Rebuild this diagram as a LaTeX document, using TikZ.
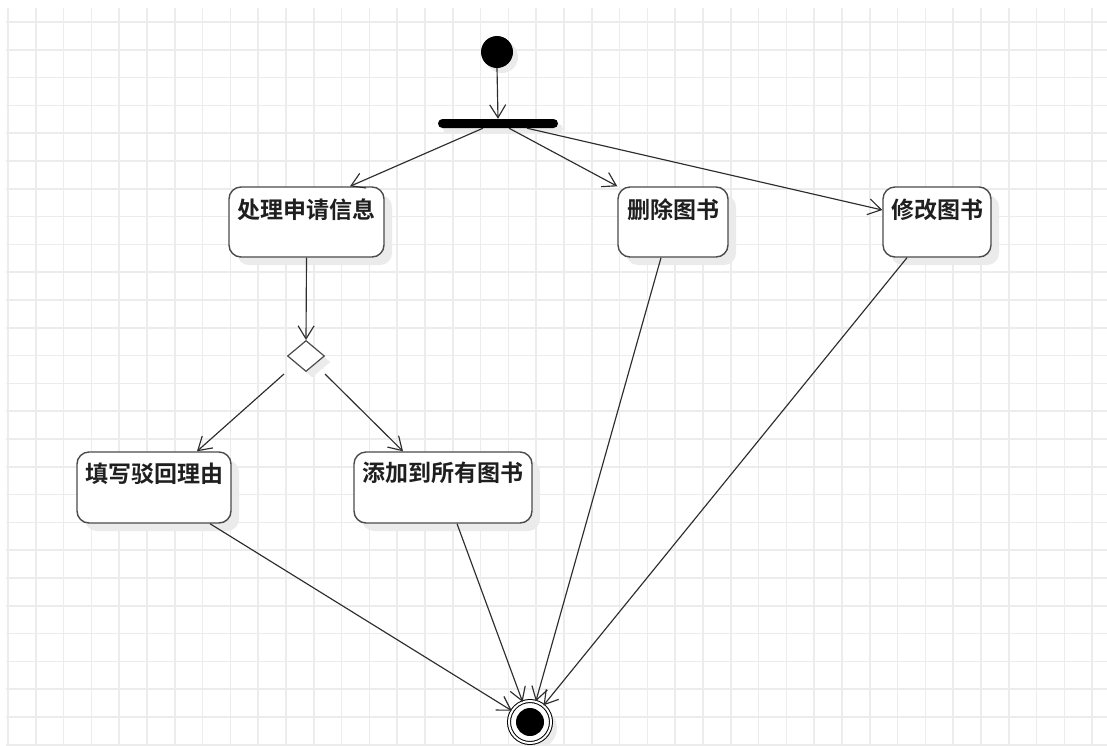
\documentclass[tikz,border=0pt]{standalone}
\usepackage{fontspec}
\newfontfamily\cjk{Noto Sans CJK SC}[BoldFont={Noto Sans CJK SC Bold}]
\usetikzlibrary{arrows.meta,shapes.geometric,calc,shadows}
\definecolor{gridc}{RGB}{236,236,236}
\definecolor{shc}{RGB}{235,235,235}
\definecolor{linec}{RGB}{45,45,45}
\definecolor{boxc}{RGB}{75,75,75}
\tikzset{
  shad/.style={drop shadow={shadow xshift=#1, shadow yshift=-#1, fill=shc, opacity=1}},
  actbox/.style={draw=boxc, line width=1.4pt, rounded corners=12pt, fill=white,
    minimum height=70pt, inner sep=0pt, shad=8pt},
  lbl/.style={font=\cjk\bfseries\fontsize{23pt}{27pt}\selectfont, text=black!88, inner sep=0pt},
  flow/.style={draw=linec, line width=1.15pt, -{Straight Barb[length=13pt,width=16pt]}},
  gridline/.style={draw=gridc, line width=1.5pt}
}
\begin{document}
\begin{tikzpicture}[x=1pt,y=-1pt]
\useasboundingbox (0,0) rectangle (1107,745);
\fill[white] (0,0) rectangle (1107,745);
% grid
\foreach \k in {0,...,39} \draw[gridline] ({8+27.8*\k},8) -- ({8+27.8*\k},745);
\foreach \k in {0,...,26} \draw[gridline] (6,{22+27.8*\k}) -- (1107,{22+27.8*\k});

% start and fork
\node[circle, fill=black, minimum size=32pt, inner sep=0pt, shad=5pt] (start) at (497,52) {};
\node[rectangle, rounded corners=4.5pt, fill=black, minimum width=120pt, minimum height=9pt,
      inner sep=0pt, shad=5pt] (bar) at (498,123.5) {};

% activities
\node[actbox, minimum width=155pt] (A) at (306.5,222) {};
\node[lbl] (At) at ($(A.north)+(0,23)$) {处理申请信息};
\node[actbox, minimum width=110pt] (B) at (673,222) {};
\node[lbl] (Bt) at ($(B.north)+(0,23)$) {删除图书};
\node[actbox, minimum width=108pt] (C) at (937,222) {};
\node[lbl] (Ct) at ($(C.north)+(0,23)$) {修改图书};
\node[actbox, minimum width=154pt, minimum height=71pt] (D) at (154,487.5) {};
\node[lbl] (Dt) at ($(D.north)+(0,22)$) {填写驳回理由};
\node[actbox, minimum width=178pt, minimum height=71pt] (E) at (443,487.5) {};
\node[lbl] (Et) at ($(E.north)+(0,22)$) {添加到所有图书};

% decision
\node[diamond, draw=boxc, line width=1.2pt, fill=white, minimum width=37pt, minimum height=31pt,
      inner sep=0pt, shad=6pt] (dia) at (306,356) {};

% final
\node[circle, draw=black, line width=1pt, double=white, double distance=2pt, fill=white,
      minimum size=42pt, inner sep=0pt, shad=6pt] (end) at (530,722) {};
\node[circle, fill=black, minimum size=28pt, inner sep=0pt] (endcore) at (end.center) {};

% flows
\draw[flow] (start.south) -- (bar.north);
\draw[flow] ($(bar.south)+(-15,0)$) -- ($(A.north)+(43.5,0)$);
\draw[flow] ($(bar.south)+(11,0)$) -- (B.north west);
\draw[flow] ($(bar.south)+(29,0)$) -- ($(C.west)+(0,-12)$);
\draw[flow] (A.south) -- (dia.north);
\draw[flow] ($(dia.center)+(-22,18)$) -- ($(D.north)+(43,0)$);
\draw[flow] ($(dia.center)+(19,18)$) -- ($(E.north)+(-40,0)$);
\draw[flow] ($(D.south)+(56,0)$) -- (end);
\draw[flow] ($(E.south)+(14,0)$) -- (end);
\draw[flow] ($(B.south)+(-12,0)$) -- (end);
\draw[flow] ($(C.south)+(-30,0)$) -- (end);
\end{tikzpicture}
\end{document}
